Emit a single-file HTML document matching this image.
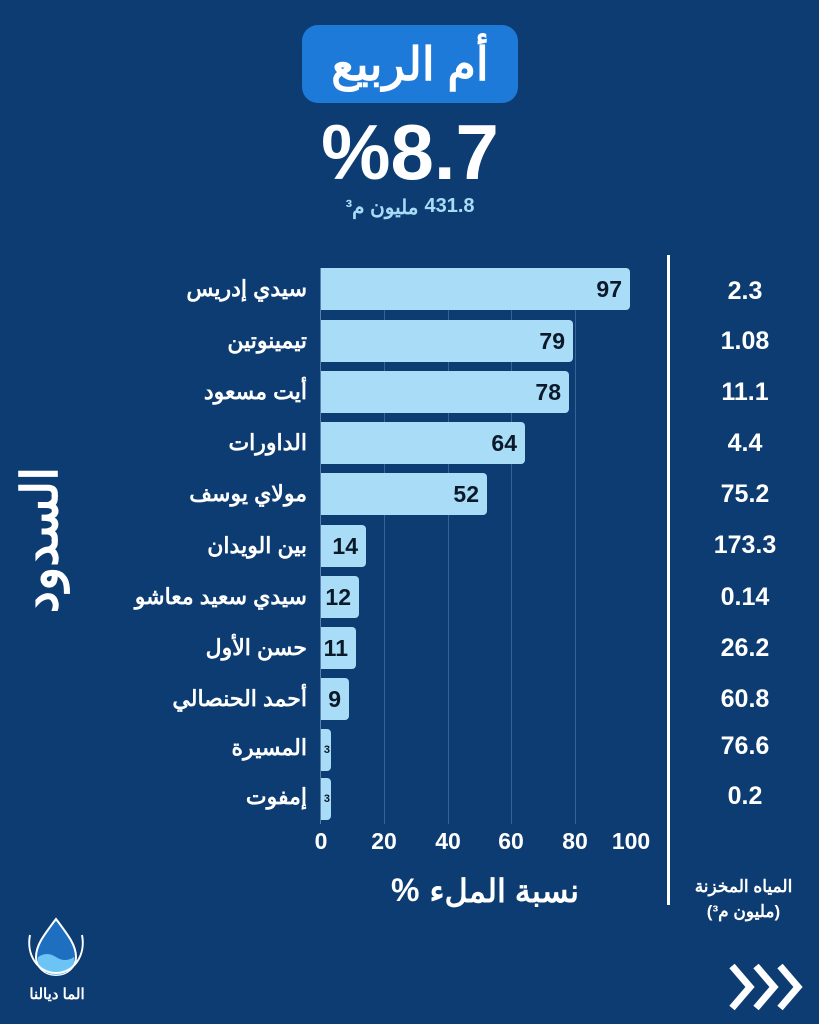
<!DOCTYPE html>
<html><head><meta charset="utf-8"><style>
body{margin:0;width:819px;height:1024px;background:#0c3c72;position:relative;overflow:hidden;font-family:"Liberation Sans","Noto Sans CJK SC",sans-serif;color:#fff}
.a{position:absolute}
.fx{display:flex;justify-content:center;flex-direction:row;direction:ltr}
.title{left:302px;top:25px;width:216px;height:78px;background:#1e7ad8;border-radius:16px;font-size:46px;font-weight:bold;text-align:center;line-height:78px}
.big{left:260px;top:110px;width:300px;text-align:center;font-size:78px;font-weight:bold;line-height:84px}
.sub{left:260px;top:195px;width:300px;font-size:20px;font-weight:bold;color:#a9dbf7;gap:6px}
.grid{width:1px;top:268px;height:556px;background:#3a6296}
.bar{left:321px;height:42px;background:#a9dcf7;border-radius:0 4px 4px 0;color:#0a1a2a;font-weight:bold;font-size:23px;line-height:42px;text-align:right;box-sizing:border-box;padding-right:8px}
.lab{right:512px;font-size:22px;font-weight:bold;text-align:right;white-space:nowrap;line-height:30px}
.val{left:680px;width:130px;text-align:center;font-size:25px;font-weight:bold;line-height:30px}
.tick{top:828px;font-size:23px;font-weight:bold;width:60px;text-align:center;margin-left:-30px}
</style></head><body>
<div class="a title">أم الربيع</div>
<div class="a big">%8.7</div>
<div class="a sub fx"><span>مليون م³</span><span>431.8</span></div>

<div class="a grid" style="left:384px"></div>
<div class="a grid" style="left:448px"></div>
<div class="a grid" style="left:511px"></div>
<div class="a grid" style="left:575px"></div>
<div class="a" style="left:320px;top:268px;width:1px;height:556px;background:#5a7fae"></div>
<div class="a" style="left:667px;top:255px;width:3px;height:650px;background:#fff"></div>

<div class="a bar" style="top:268px;width:309px">97</div>
<div class="a bar" style="top:320px;width:252px">79</div>
<div class="a bar" style="top:371px;width:248px">78</div>
<div class="a bar" style="top:422px;width:204px">64</div>
<div class="a bar" style="top:473px;width:166px">52</div>
<div class="a bar" style="top:525px;width:45px">14</div>
<div class="a bar" style="top:576px;width:38px">12</div>
<div class="a bar" style="top:627px;width:35px">11</div>
<div class="a bar" style="top:678px;width:28px">9</div>
<div class="a bar" style="top:729px;width:10px;font-size:11px;padding-right:1px">3</div>
<div class="a bar" style="top:778px;width:10px;font-size:11px;padding-right:1px">3</div>

<div class="a lab" style="top:274px">سيدي إدريس</div>
<div class="a lab" style="top:326px">تيمينوتين</div>
<div class="a lab" style="top:377px">أيت مسعود</div>
<div class="a lab" style="top:428px">الداورات</div>
<div class="a lab" style="top:479px">مولاي يوسف</div>
<div class="a lab" style="top:531px">بين الويدان</div>
<div class="a lab" style="top:582px">سيدي سعيد معاشو</div>
<div class="a lab" style="top:633px">حسن الأول</div>
<div class="a lab" style="top:684px">أحمد الحنصالي</div>
<div class="a lab" style="top:733px">المسيرة</div>
<div class="a lab" style="top:782px">إمفوت</div>

<div class="a val" style="top:276px">2.3</div>
<div class="a val" style="top:326px">1.08</div>
<div class="a val" style="top:377px">11.1</div>
<div class="a val" style="top:428px">4.4</div>
<div class="a val" style="top:479px">75.2</div>
<div class="a val" style="top:530px">173.3</div>
<div class="a val" style="top:582px">0.14</div>
<div class="a val" style="top:633px">26.2</div>
<div class="a val" style="top:684px">60.8</div>
<div class="a val" style="top:731px">76.6</div>
<div class="a val" style="top:781px">0.2</div>

<div class="a tick" style="left:321px">0</div>
<div class="a tick" style="left:384px">20</div>
<div class="a tick" style="left:448px">40</div>
<div class="a tick" style="left:511px">60</div>
<div class="a tick" style="left:575px">80</div>
<div class="a tick" style="left:631px">100</div>

<div class="a fx" style="left:360px;top:872px;width:250px;font-size:32px;font-weight:bold;gap:10px"><span>%</span><span>نسبة الملء</span></div>
<div class="a" style="left:676px;top:874px;width:135px;text-align:center;font-size:17px;font-weight:bold;line-height:25px">المياه المخزنة<br>(مليون م³)</div>
<div class="a" style="left:-60px;top:510px;width:200px;text-align:center;font-size:50px;font-weight:bold;transform:rotate(-90deg);line-height:60px">السدود</div>

<svg class="a" style="left:24px;top:915px" width="64" height="62" viewBox="0 0 64 62">
<path d="M32 4 C20 20 12 30 12 42 a20 18 0 0 0 40 0 C52 30 44 20 32 4Z" fill="#1e6fc0" stroke="#fff" stroke-width="2"/>
<path d="M14 42 q9 -6 18 0 t18 0 v4 a18 14 0 0 1 -36 0Z" fill="#6cc4f5"/>
<path d="M6 20 C2 40 14 58 32 58 C50 58 62 40 58 20" fill="none" stroke="#fff" stroke-width="2"/>
</svg>
<div class="a" style="left:22px;top:985px;width:70px;text-align:center;font-size:15px;font-weight:bold">الما ديالنا</div>
<svg class="a" style="left:726px;top:960px" width="80" height="54" viewBox="0 0 80 54">
<g fill="none" stroke="#fff" stroke-width="7"><path d="M6 6 L24 27 L6 48"/><path d="M30 6 L48 27 L30 48"/><path d="M54 6 L72 27 L54 48"/></g>
</svg>
</body></html>
